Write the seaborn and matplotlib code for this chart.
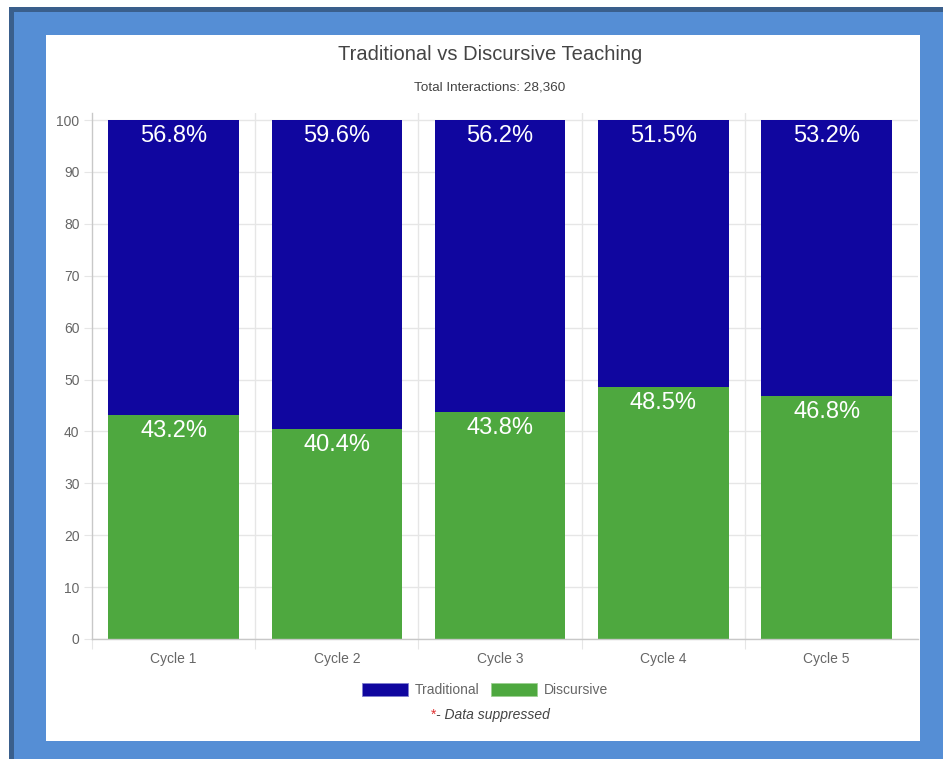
import matplotlib
matplotlib.use("Agg")
import matplotlib.pyplot as plt
from matplotlib.patches import Rectangle, Patch
import seaborn as sns
import pandas as pd

categories = ["Cycle 1", "Cycle 2", "Cycle 3", "Cycle 4", "Cycle 5"]
traditional = [56.8, 59.6, 56.2, 51.5, 53.2]
discursive = [43.2, 40.4, 43.8, 48.5, 46.8]
yticks = [0, 10, 20, 30, 40, 50, 60, 70, 80, 90, 100]

C_TRAD = "#10069F"
C_DISC = "#4EA83F"
GRID = "#E6E6E6"
AXC = "#C8C8C8"
TXT = "#666666"

sns.set_theme(style="white")
plt.rcParams["font.family"] = ["Liberation Sans", "DejaVu Sans"]

W, H = 943, 759
fig = plt.figure(figsize=(W / 100, H / 100), dpi=100)

def frect(x0, y0, x1, y1, color, z):
    fig.patches.append(Rectangle((x0 / W, 1 - y1 / H), (x1 - x0) / W, (y1 - y0) / H,
                                 transform=fig.transFigure, facecolor=color,
                                 edgecolor="none", zorder=z))

frect(0, 0, W, H, "white", -10)
frect(9, 7, W, H, "#3A5F8C", -9)
frect(14, 12, W, H, "#558ED5", -8)
frect(46, 35, 920, 741, "white", -7)

ax_l, ax_r, ax_t, ax_b = 92, 918, 113, 639
band = 163.25
ax = fig.add_axes([ax_l / W, 1 - ax_b / H, (ax_r - ax_l) / W, (ax_b - ax_t) / H])
ax.set_facecolor("none")

df = pd.DataFrame({"cat": categories, "trad": traditional, "disc": discursive})
df["total"] = df["trad"] + df["disc"]

sns.barplot(data=df, x="cat", y="total", color=C_TRAD, saturation=1, width=0.80,
            ax=ax, zorder=3, edgecolor="none")
sns.barplot(data=df, x="cat", y="disc", color=C_DISC, saturation=1, width=0.80,
            ax=ax, zorder=4, edgecolor="none")

top = 100 * (ax_b - ax_t) / (ax_b - 120)
ax.set_ylim(0, top)
ax.set_xlim(-0.5, -0.5 + (ax_r - ax_l) / band)
ax.set_yticks(yticks)
ax.set_yticklabels([str(v) for v in yticks])
ax.set_xlabel("")
ax.set_ylabel("")

for v in yticks:
    ax.axhline(v, color=GRID, lw=1, zorder=1)
for i in range(1, len(categories)):
    ax.axvline(i - 0.5, color=GRID, lw=1, zorder=1)

for s in ["top", "right"]:
    ax.spines[s].set_visible(False)
ax.spines["left"].set_color(AXC)
ax.spines["bottom"].set_color(AXC)
ax.spines["left"].set_linewidth(1)
ax.spines["bottom"].set_linewidth(1)
ax.spines["left"].set_zorder(5)
ax.spines["bottom"].set_zorder(5)

ax.tick_params(axis="y", length=6, width=0.8, color=GRID, labelsize=10,
               labelcolor=TXT, pad=3, left=True)
ax.tick_params(axis="x", length=0, labelsize=10, labelcolor=TXT, pad=9)
ax.set_xticks([i - 0.5 for i in range(len(categories))], minor=True)
ax.tick_params(axis="x", which="minor", length=7, width=0.8, color=GRID, bottom=True)

for i, (t, d) in enumerate(zip(traditional, discursive)):
    ax.annotate(f"{t}%", (i, d + t), xytext=(0, -3.5), textcoords="offset points",
                ha="center", va="top", color="white", fontsize=17, zorder=6)
    ax.annotate(f"{d}%", (i, d), xytext=(0, -3.5), textcoords="offset points",
                ha="center", va="top", color="white", fontsize=17, zorder=6)

fig.text(490 / W, 1 - 54 / H, "Traditional vs Discursive Teaching", ha="center",
         va="center", fontsize=14.5, color="#444444")
fig.text(490 / W, 1 - 87 / H, "Total Interactions: 28,360", ha="center",
         va="center", fontsize=9.7, color="#444444")

handles = [Patch(facecolor=C_TRAD, edgecolor="#8080D0", lw=0.6, label="Traditional"),
           Patch(facecolor=C_DISC, edgecolor="#9CD090", lw=0.6, label="Discursive")]
fig.legend(handles=handles, loc="center", bbox_to_anchor=(485 / W, 1 - 690 / H),
           ncol=2, frameon=False, fontsize=10, labelcolor=TXT, handlelength=3.3,
           handleheight=1.05, handletextpad=0.5, columnspacing=0.8)

fig.text(436 / W, 1 - 715 / H, "*", ha="right", va="center", fontsize=10, color="#E03030")
fig.text(436 / W, 1 - 715 / H, "- Data suppressed", ha="left", va="center",
         fontsize=10, color="#444444", style="italic")

fig.savefig("out.png", dpi=100, facecolor="white")
